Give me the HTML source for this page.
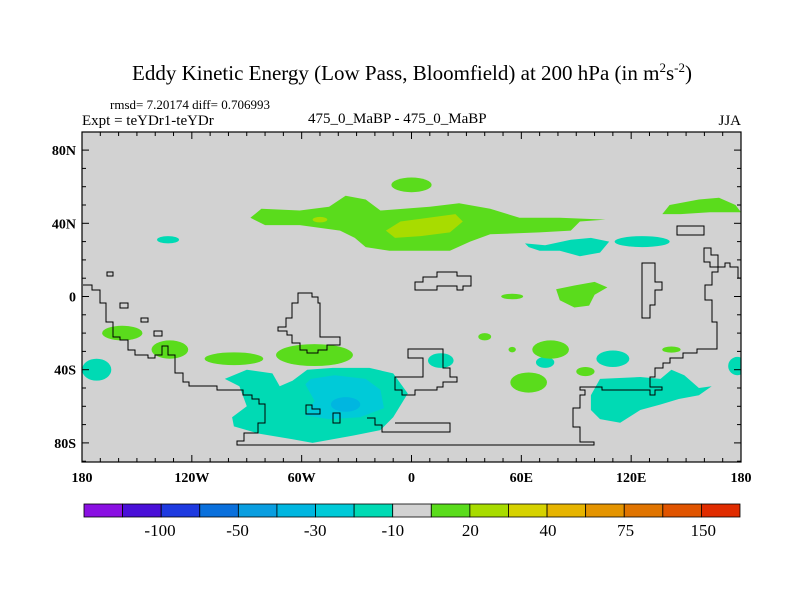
<!DOCTYPE html>
<html><head><meta charset="utf-8"><style>
body{margin:0;background:#fff;}
svg{display:block;font-family:"Liberation Serif",serif;}
</style></head><body>
<svg id="chart" width="800" height="600" viewBox="0 0 800 600">
<text x="412" y="80" text-anchor="middle" font-size="21">Eddy Kinetic Energy (Low Pass, Bloomfield) at 200 hPa (in m<tspan font-size="13" dy="-8">2</tspan><tspan dy="8">s</tspan><tspan font-size="13" dy="-8">-2</tspan><tspan dy="8">)</tspan></text>
<text x="110" y="109" font-size="13">rmsd= 7.20174 diff= 0.706993</text>
<text x="82" y="125" font-size="15">Expt = teYDr1-teYDr</text>
<text x="308" y="123" font-size="15">475_0_MaBP - 475_0_MaBP</text>
<text x="741" y="125" font-size="15" text-anchor="end">JJA</text>
<rect x="82" y="132" width="659" height="330" fill="#d2d2d2"/>
<g id="fills"></g>
<g fill="none" stroke="#000" stroke-width="1">
<polyline points="83,285 92,285 92,290 100,290 100,303 106,303 106,322 113,322 113,337 120,337 120,340 128,340 128,350 135,350 135,355 148,355 148,358 155,358 155,355 162,355 162,346 168,346 168,355 175,355 175,373 183,373 183,382 189,382 189,386 217,386 217,390 243,390 243,395 252,395 252,399 259,399 259,404 265,404 265,423 258,423 258,433 244,433 244,441 237,441 237,445 594,445 594,442 580,442 580,427 573,427 573,408 580,408 580,395 585,395 585,390 580,390 580,387 602,387 602,390 650,390 650,395 655,395 655,390 662,390 662,387 650,387 650,377 655,377 655,368 663,368 663,363 670,363 670,358 683,358 683,353 697,353 697,349 717,349 717,322 712,322 712,300 705,300 705,285 712,285 712,272 718,272 718,267 725,267 725,263 730,263 730,267 738,267 738,278 741,278"/>
<polygon points="408,349 443,349 443,368 450,368 450,377 457,377 457,382 443,382 443,387 437,387 437,390 415,390 415,395 402,395 402,390 395,390 395,377 423,377 423,358 408,358"/>
<polyline points="367,418 375,418 375,425 382,425 382,432 450,432 450,423 395,423"/>
<polygon points="298,293 312,293 312,297 318,297 318,303 320,303 320,337 340,337 340,345 327,345 327,350 318,350 318,353 307,353 307,350 300,350 300,343 292,343 292,335 287,335 287,331 278,331 278,327 286,327 286,318 292,318 292,303 298,303"/>
<rect x="107" y="272" width="6" height="4"/><rect x="120" y="303" width="8" height="5"/><rect x="141" y="318" width="7" height="4"/><rect x="154" y="331" width="8" height="5"/>
<polygon points="306,405 312,405 312,409 320,409 320,414 306,414"/><rect x="333" y="413" width="7" height="10"/>
<polygon points="415,290 415,282 423,282 423,277 437,277 437,272 457,272 457,276 471,276 471,286 463,286 463,290 457,290 457,286 437,286 437,290"/>
<rect x="677" y="226" width="27" height="9"/>
<polygon points="704,248 711,248 711,255 718,255 718,267 710,267 710,262 704,262"/>
<polygon points="642,263 655,263 655,282 662,282 662,290 655,290 655,305 650,305 650,318 642,318"/>
</g>
<rect x="82" y="132" width="659" height="330" fill="none" stroke="#000" stroke-width="1.2"/>
<g id="axes" font-size="14" font-weight="bold"></g>
<g id="cbar"></g>
</svg>
<script>
// colour levels (contour intervals)
const levelLabels = ["-100","-50","-30","-10","20","40","75","150"];
const levelColors = ["#8a10e2","#4a10d8","#1e3ae0","#0a70dc","#0a9ee0","#00b6e0","#00cad8","#00dab4","#d2d2d2","#5adc1c","#a8dc00","#d6d200","#e6b400","#e49400","#e07400","#e05400","#e02c00"];
const lonTicks = [-180,-120,-60,0,60,120,180];
const lonTickLabels = ["180","120W","60W","0","60E","120E","180"];
const latTicks = [80,40,0,-40,-80];
const latTickLabels = ["80N","40N","0","40S","80S"];
// contour polygons [lon,lat] with colour index
const polyRegions = [
 {c:9, pts:[[-88,43],[-82,48],[-61,47],[-45,49],[-36,55],[-25,53],[-17,47],[10,49],[26,51],[43,48],[59,43],[81,43],[106,42],[92,41],[87,36],[70,35],[43,34],[32,30],[21,25],[-12,25],[-25,27],[-31,32],[-39,36],[-61,39],[-80,39]]},
 {c:10, pts:[[-14,36],[-6,41],[24,45],[28,41],[21,35],[5,33],[-9,32]]},
 {c:9, pts:[[137,45],[141,50],[157,53],[168,54],[177,50],[180,46],[163,46],[147,45]]},
 {c:7, pts:[[62,29],[73,28],[87,31],[98,32],[108,30],[103,24],[92,22],[81,25],[70,25],[64,27]]},
 {c:9, pts:[[79,4],[89,6],[100,8],[107,5],[100,1],[97,-5],[89,-6],[81,-2]]},
 {c:7, pts:[[-102,-45],[-90,-40],[-76,-42],[-72,-49],[-65,-46],[-57,-40],[-43,-39],[-23,-39],[-10,-42],[-2,-53],[-10,-66],[-17,-73],[-32,-76],[-54,-80],[-65,-78],[-83,-75],[-97,-71],[-98,-66],[-90,-60],[-94,-49]]},
 {c:6, pts:[[-55,-45],[-42,-43],[-25,-45],[-17,-51],[-15,-61],[-28,-66],[-45,-67],[-58,-65],[-53,-57],[-58,-48]]},
 {c:7, pts:[[98,-54],[103,-45],[125,-44],[136,-45],[142,-40],[149,-43],[157,-50],[164,-49],[157,-54],[146,-56],[136,-59],[125,-62],[114,-69],[103,-67],[98,-62]]}
];
// elliptical cells: lon, lat, radius lon, radius lat, colour index
const cellLon = [0,126,-133,55,-158,-132,-97,-53,-172,-36,16,73,110,178,76,64,95,40,142,55,-50];
const cellLat = [61,30,31,0,-20,-29,-34,-32,-40,-59,-35,-36,-34,-38,-29,-47,-41,-22,-29,-29,42];
const cellRLon = [11,15,6,6,11,10,16,21,8,8,7,5,9,5,10,10,5,3.5,5,2,4];
const cellRLat = [4,3,2,1.5,4,5,3.5,6,6,4,4,3,4.5,5,5,5.5,2.5,2,1.7,1.5,1.5];
const cellColor = [9,7,7,9,9,9,9,9,7,5,7,7,7,7,9,9,9,9,9,9,10];

const X0=82,X1=741,Y0=132,Y1=462;
const xScale = lon => 411.5 + lon*(X1-X0)/360;
const yScale = lat => 296.5 - lat*1.83;
const NS="http://www.w3.org/2000/svg";
const fills=document.getElementById('fills');
function mk(tag,attrs,parent){const e=document.createElementNS(NS,tag);for(const k in attrs)e.setAttribute(k,attrs[k]);parent.appendChild(e);return e;}

polyRegions.forEach((r,i)=>{
 const e=mk('polygon',{points:r.pts.map(p=>xScale(p[0]).toFixed(1)+','+yScale(p[1]).toFixed(1)).join(' '),fill:levelColors[r.c]},fills);
 
 
});
cellLon.forEach((lon,i)=>{
 const e=mk('ellipse',{cx:xScale(lon),cy:yScale(cellLat[i]),rx:cellRLon[i]*1.831,ry:cellRLat[i]*1.83,fill:levelColors[cellColor[i]]},fills);
 
 
});
// clip
const clip=mk('clipPath',{id:'pc'},document.getElementById('chart'));
mk('rect',{x:X0,y:Y0,width:X1-X0,height:Y1-Y0},clip);
fills.setAttribute('clip-path','url(#pc)');

const axes=document.getElementById('axes');
for(let lon=-180;lon<=180;lon+=10){
 const x=xScale(lon), L=(lon%60===0)?7:4;
 mk('line',{x1:x,x2:x,y1:Y1,y2:Y1-L,stroke:'#000'},axes);
 mk('line',{x1:x,x2:x,y1:Y0,y2:Y0+L,stroke:'#000'},axes);
}
for(let lat=-90;lat<=90;lat+=10){
 const y=yScale(lat); if(y<Y0||y>Y1)continue; const L=(lat%40===0)?7:4;
 mk('line',{x1:X0,x2:X0+L,y1:y,y2:y,stroke:'#000'},axes);
 mk('line',{x1:X1,x2:X1-L,y1:y,y2:y,stroke:'#000'},axes);
}
lonTicks.forEach((lon,i)=>{
 const t=mk('text',{x:xScale(lon),y:482,'text-anchor':'middle'},axes);
 t.textContent=lonTickLabels[i];
 
 
});
latTicks.forEach((lat,i)=>{
 const t=mk('text',{x:76,y:yScale(lat)+5,'text-anchor':'end'},axes);
 t.textContent=latTickLabels[i];
 
 
});
// colour bar
const cb=document.getElementById('cbar');


const cbx0=84,cbw=(740-84)/levelColors.length;
levelColors.forEach((c,i)=>{
 const r=mk('rect',{x:cbx0+i*cbw,y:504,width:cbw,height:13,fill:c,stroke:'#000','stroke-width':0.8},cb);
 
 
});
levelLabels.forEach((s,i)=>{
 const t=mk('text',{x:160+i*77.6,y:536,'text-anchor':'middle','font-size':17},cb);
 t.textContent=s;
 
 
});
</script>
</body></html>
